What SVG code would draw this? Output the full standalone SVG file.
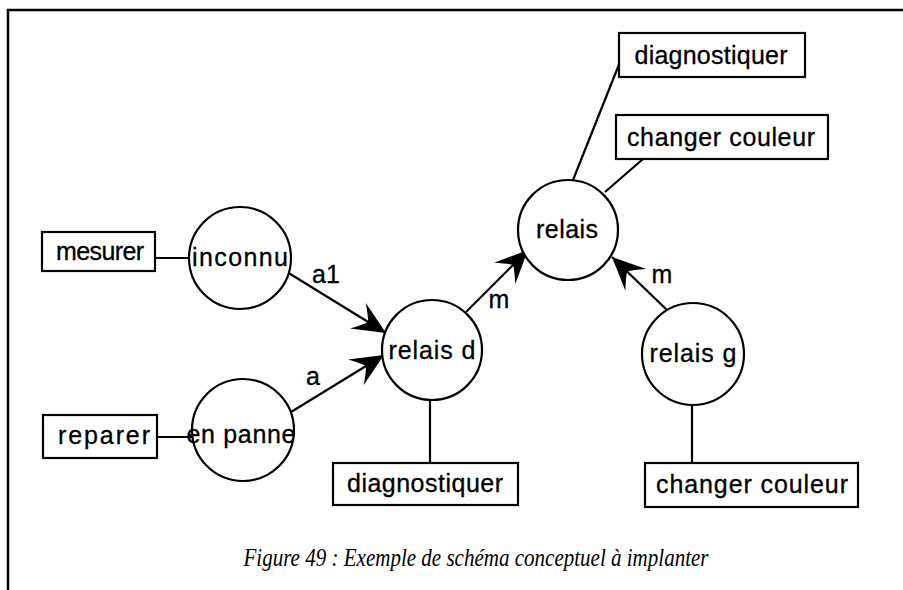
<svg xmlns="http://www.w3.org/2000/svg" width="903" height="590" viewBox="0 0 903 590">
<style>
.frame{stroke:#000;stroke-width:2.5;fill:none}
.box{fill:#fff;stroke:#000;stroke-width:2.2}
.node{fill:#fff;stroke:#000;stroke-width:2.2}
.edge{stroke:#000;stroke-width:2.2;fill:none}
.lbl{font-family:"Liberation Sans",Arial,sans-serif;font-size:25px;fill:#000;stroke:#000;stroke-width:0.3;text-anchor:middle}
.cap{font-family:"Liberation Serif","Times New Roman",serif;font-style:italic;font-size:26px;fill:#000;text-anchor:middle}
</style>
<defs>
<marker id="arr" viewBox="-36 -18 38 36" refX="0" refY="0" markerWidth="38" markerHeight="36" markerUnits="userSpaceOnUse" orient="auto">
<path d="M0,0 L-33,-15 Q-24,-5 -21,0 Q-24,5 -33,15 Z" fill="#000"/>
</marker>
</defs>
<rect width="903" height="590" fill="#fff"/>
<path class="frame" d="M8,590 L8,10 L903,10"/>
<g id="connectors">
<line class="edge" x1="155" y1="258" x2="190" y2="258"/>
<line class="edge" x1="157" y1="437" x2="194" y2="437"/>
<line class="edge" x1="287" y1="272" x2="386" y2="333" marker-end="url(#arr)"/>
<line class="edge" x1="291" y1="412" x2="384" y2="355" marker-end="url(#arr)"/>
<line class="edge" x1="466" y1="312" x2="528" y2="250" marker-end="url(#arr)"/>
<line class="edge" x1="668" y1="311" x2="612" y2="257" marker-end="url(#arr)"/>
<line class="edge" x1="430" y1="400" x2="430" y2="463"/>
<line class="edge" x1="692" y1="405" x2="692" y2="463"/>
<line class="edge" x1="573" y1="180" x2="620" y2="62"/>
<line class="edge" x1="605" y1="192" x2="643" y2="159"/>
<text class="lbl" x="326" y="283">a1</text>
<text class="lbl" x="313" y="385">a</text>
<text class="lbl" x="499" y="308">m</text>
<text class="lbl" x="662" y="283">m</text>
</g>
<g id="mesurer">
<rect class="box" x="42" y="232" width="113" height="39"/>
<text class="lbl" x="100" y="260" textLength="88" lengthAdjust="spacing">mesurer</text>
</g>
<g id="reparer">
<rect class="box" x="43" y="415" width="114" height="43"/>
<text class="lbl" x="104" y="444" textLength="92" lengthAdjust="spacing">reparer</text>
</g>
<g id="inconnu">
<circle class="node" cx="240" cy="258" r="51"/>
<text class="lbl" x="240" y="266" textLength="96" lengthAdjust="spacing">inconnu</text>
</g>
<g id="en-panne">
<circle class="node" cx="243" cy="430" r="51"/>
<text class="lbl" x="241" y="443" textLength="109" lengthAdjust="spacing">en panne</text>
</g>
<g id="relais-d">
<circle class="node" cx="432" cy="350" r="50"/>
<text class="lbl" x="432" y="359" textLength="87" lengthAdjust="spacing">relais d</text>
</g>
<g id="relais">
<circle class="node" cx="568" cy="230" r="50"/>
<text class="lbl" x="567" y="238" textLength="62" lengthAdjust="spacing">relais</text>
</g>
<g id="relais-g">
<circle class="node" cx="693" cy="354" r="51"/>
<text class="lbl" x="693" y="362" textLength="87" lengthAdjust="spacing">relais g</text>
</g>
<g id="diagnostiquer-bottom">
<rect class="box" x="333" y="463" width="185" height="42"/>
<text class="lbl" x="425" y="492" textLength="156" lengthAdjust="spacing">diagnostiquer</text>
</g>
<g id="changer-couleur-bottom">
<rect class="box" x="645" y="463" width="213" height="44"/>
<text class="lbl" x="752" y="493" textLength="192" lengthAdjust="spacing">changer couleur</text>
</g>
<g id="diagnostiquer-top">
<rect class="box" x="619" y="33" width="186" height="44"/>
<text class="lbl" x="711" y="64" textLength="153" lengthAdjust="spacing">diagnostiquer</text>
</g>
<g id="changer-couleur-top">
<rect class="box" x="616" y="115" width="212" height="44"/>
<text class="lbl" x="721" y="146" textLength="188" lengthAdjust="spacing">changer couleur</text>
</g>
<text class="cap" x="476" y="566" textLength="465" lengthAdjust="spacingAndGlyphs">Figure 49 : Exemple de schéma conceptuel à implanter</text>
</svg>
